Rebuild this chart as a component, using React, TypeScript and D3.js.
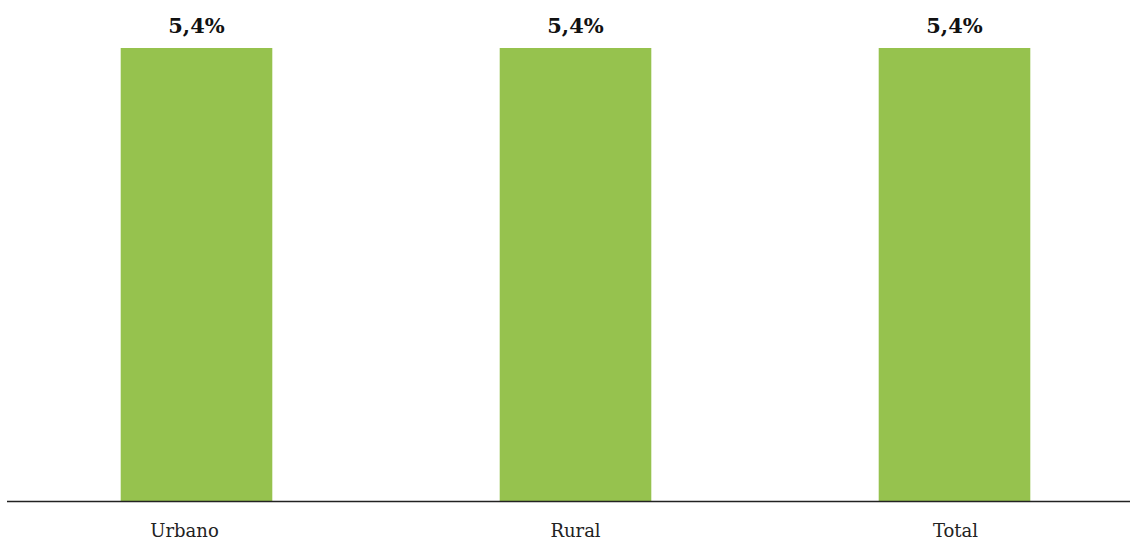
import React from "react";
import * as d3 from "d3";

const categories = ["Urbano", "Rural", "Total"];
const values = [5.4, 5.4, 5.4];
const valueLabels = ["5,4%", "5,4%", "5,4%"];

const W = 1130;
const H = 540;
// small horizontal nudge of category labels as in the reference layout
const labelNudge: Record<string, number> = { Urbano: -12, Rural: 0, Total: 1 };

export default function App() {
  const x = d3
    .scaleBand<string>()
    .domain(categories)
    .range([7, 1144])
    .paddingInner(0.6)
    .paddingOuter(0.3);
  const y = d3.scaleLinear().domain([0, 5.4]).range([501.5, 48]);
  const font = "'DejaVu Serif', serif";
  return (
    <svg
      width={W}
      height={H}
      style={{ position: "absolute", left: 0, top: 0, background: "#fff" }}
    >
      {categories.map((c, i) => (
        <g key={c}>
          <rect
            x={x(c)!}
            y={y(values[i])}
            width={x.bandwidth()}
            height={y(0) - y(values[i])}
            fill="#96c24e"
          />
          <text
            x={x(c)! + x.bandwidth() / 2}
            y={y(values[i]) - 15}
            textAnchor="middle"
            fontFamily={font}
            fontWeight="bold"
            fontSize={21}
            fill="#111"
          >
            {valueLabels[i]}
          </text>
          <text
            x={x(c)! + x.bandwidth() / 2 + (labelNudge[c] || 0)}
            y={537}
            textAnchor="middle"
            fontFamily={font}
            fontSize={18}
            fill="#222"
          >
            {c}
          </text>
        </g>
      ))}
      <line x1={7} x2={1130} y1={501.5} y2={501.5} stroke="#222" strokeWidth={1.3} />
    </svg>
  );
}
